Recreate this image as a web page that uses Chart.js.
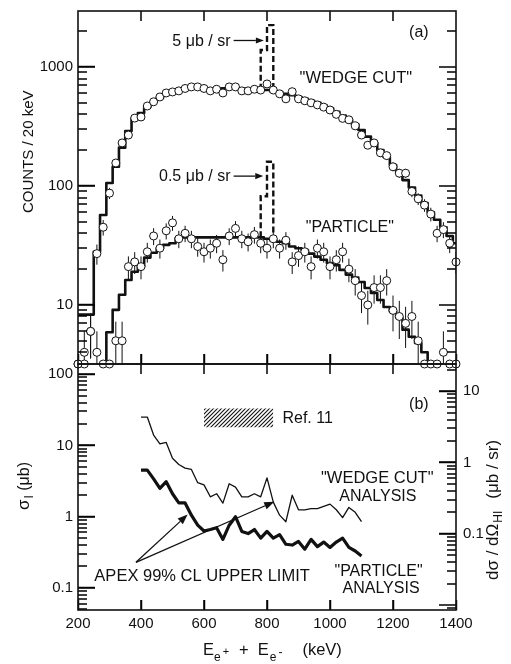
<!DOCTYPE html>
<html>
<head>
<meta charset="utf-8">
<title>APEX e+e- sum energy spectra and limits</title>
<script src="https://cdn.jsdelivr.net/npm/chart.js@4.4.1/dist/chart.umd.min.js"></script>
<style>
  html, body { margin: 0; padding: 0; background: #fff; }
  #figure { position: relative; width: 511px; height: 664px; }
  #counts-chart { position: absolute; left: 0; top: 0; }
  #limit-chart { position: absolute; left: 0; top: 358px; }
</style>
</head>
<body>
<div id="figure">
  <canvas id="counts-chart" width="511" height="370"></canvas>
  <canvas id="limit-chart" width="511" height="306"></canvas>
</div>
<script>
const FAMILY = "'Liberation Sans', Arial, Helvetica, sans-serif";
const INK = '#111';
const BOTTOM_OFFSET = 358;

// panel (a): counts per 20 keV bin
const energyBins = [200, 220, 240, 260, 280, 300, 320, 340, 360, 380,
  400, 420, 440, 460, 480, 500, 520, 540, 560, 580,
  600, 620, 640, 660, 680, 700, 720, 740, 760, 780,
  800, 820, 840, 860, 880, 900, 920, 940, 960, 980,
  1000, 1020, 1040, 1060, 1080, 1100, 1120, 1140, 1160, 1180,
  1200, 1220, 1240, 1260, 1280, 1300, 1320, 1340, 1360, 1380, 1400];
const wedgeCounts = [0, 4, 6, 27, 45, 87, 156, 230, 268, 372,
  380, 470, 510, 560, 605, 617, 630, 660, 680, 680,
  660, 630, 650, 605, 680, 680, 630, 630, 650, 640,
  720, 640, 595, 540, 620, 540, 520, 500, 480, 460,
  435, 400, 370, 360, 320, 268, 220, 230, 190, 180,
  145, 128, 128, 90, 78, 69, 58, 40, 43, 33, 23];
const wedgeFit = [8.3, 8.3, 8.3, 28, 57, 106, 145, 210, 290, 370,
  410, 460, 510, 550, 590, 615, 635, 650, 660, 665,
  665, 660, 660, 662, 665, 665, 660, 655, 650, 645,
  640, 625, 610, 595, 580, 560, 540, 520, 500, 475,
  450, 420, 390, 360, 330, 295, 260, 230, 200, 175,
  150, 130, 112, 97, 83, 72, 60, 52, 45, 38, 33];
const particleCounts = [0, 0, 6, 4, 0, 0, 5, 5, 21, 23,
  21, 28, 38, 30, 42, 49, 36, 40, 36, 31,
  28, 30, 33, 24, 38, 44, 36, 34, 39, 33,
  30, 36, 30, 35, 23, 26, 28, 21, 30, 28,
  21, 24, 28, 20, 16, 12, 10, 14, 14, 16,
  9, 8, 7, 8, 5, 0, 0, 0, 4, 0, 0];
const particleFit = [0, 0, 0, 0, 0, 5.9, 9.1, 12.2, 16.2, 19,
  21, 25, 27.5, 30, 32, 33, 36.5, 37, 37, 37,
  37, 37, 37, 37, 37, 37, 37, 37, 37, 37,
  36, 35, 34, 33, 31, 30, 29, 27, 25.5, 24,
  22.5, 21.6, 19.7, 18, 17, 15.6, 13.9, 12.6, 11, 9.6,
  8.8, 7.8, 6.2, 5.4, 4.8, 4.0, 0, 0, 0, 0, 0];
const peakEdges = [780, 800, 820];
const wedgePeak = [1390, 2250];
const particlePeak = [82, 160];

// panel (b): 99% CL upper limits
const limitEnergies = [400, 420, 440, 460, 480, 500, 520, 540, 560, 580,
  600, 620, 640, 660, 680, 700, 720, 740, 760, 780,
  800, 820, 840, 860, 880, 900, 920, 940, 960, 980,
  1000, 1020, 1040, 1060, 1080, 1100];
const wedgeLimit = [25, 25, 14, 10.5, 11, 6.6, 5.4, 4.8, 4.6, 3.0,
  2.8, 1.9, 2.1, 1.55, 2.9, 2.6, 1.9, 1.9, 2.1, 1.9,
  3.5, 1.6, 1.05, 0.85, 2.0, 1.25, 1.25, 1.3, 1.3, 1.4,
  1.5, 1.25, 0.97, 1.35, 1.15, 0.85];
const particleLimit = [4.5, 4.5, 3.4, 2.5, 3.1, 2.1, 1.56, 1.56, 1.05, 0.76,
  0.63, 0.66, 0.7, 0.48, 0.76, 1.0, 0.62, 0.58, 0.66, 0.5,
  0.62, 0.5, 0.56, 0.41, 0.4, 0.45, 0.35, 0.48, 0.38, 0.44,
  0.37, 0.44, 0.5, 0.37, 0.33, 0.28];
const ref11Energy = [600, 820];
const ref11Sigma = [18, 33];

// axes
const energyTicks = [200, 400, 600, 800, 1000, 1200, 1400];
const countTicks = [10, 100, 1000];
const sigmaTicks = [0.1, 1, 10, 100];
const dsdoTicks = [0.1, 1, 10];
const countRange = [3.19, 2955];
const sigmaRange = [0.049, 139];
const dsdoRange = [0.0085, 24.1];

const MAJOR_TICK = 17;
const MINOR_TICK = 9;
const X_TICK = 10;

function logTicks(min, max) {
  const ticks = [];
  for (let e = Math.floor(Math.log10(min)); e <= Math.ceil(Math.log10(max)); e++) {
    for (let m = 1; m <= 9; m++) {
      const v = parseFloat((m * Math.pow(10, e)).toPrecision(6));
      if (v >= min && v <= max) ticks.push(v);
    }
  }
  return ticks;
}

function isDecade(v) {
  const l = Math.log10(v);
  return Math.abs(l - Math.round(l)) < 1e-9;
}

// labelled decades get inward tick marks from the library (negative length)
function logAxis(range, labels, position, width) {
  return {
    type: 'logarithmic',
    position: position,
    min: range[0],
    max: range[1],
    afterBuildTicks: s => { s.ticks = labels.map(v => ({ value: v })); },
    afterFit: s => { s.width = width; s.paddingTop = 0; s.paddingBottom = 0; },
    grid: {
      display: true,
      drawOnChartArea: false,
      drawTicks: true,
      tickLength: -MAJOR_TICK,
      tickColor: INK,
      tickWidth: 1.5
    },
    border: { display: false },
    ticks: {
      autoSkip: false,
      padding: (position === 'left' ? 5 : 7) + MAJOR_TICK,
      color: INK,
      font: { family: FAMILY, size: 15 },
      callback: v => String(v)
    }
  };
}

function energyAxis(showLabels, height) {
  return {
    type: 'linear',
    min: 200,
    max: 1400,
    afterBuildTicks: s => { s.ticks = energyTicks.map(v => ({ value: v })); },
    afterFit: s => { s.height = height; s.paddingLeft = 0; s.paddingRight = 0; },
    grid: {
      display: true,
      drawOnChartArea: false,
      drawTicks: true,
      tickLength: -X_TICK,
      tickColor: INK,
      tickWidth: 1.5
    },
    border: { display: false },
    ticks: {
      display: showLabels,
      autoSkip: false,
      maxRotation: 0,
      padding: 5 + X_TICK,
      color: INK,
      font: { family: FAMILY, size: 15 },
      callback: v => String(v)
    }
  };
}

function toPoints(xs, ys, zeroAs) {
  return xs.map((x, i) => ({ x: x, y: ys[i] > 0 ? ys[i] : zeroAs }));
}

// statistical error bars, one segment per bin, broken by nulls
function errorBars(xs, counts) {
  const out = [];
  xs.forEach((x, i) => {
    const n = counts[i];
    if (!n) return;
    const e = Math.sqrt(n);
    out.push({ x: x, y: Math.max(n - e, 0.5) }, { x: x, y: n + e }, { x: x, y: null });
  });
  return out;
}

function peakOutline(edges, heights, fit) {
  const left = fit[energyBins.indexOf(edges[0])];
  const right = fit[energyBins.indexOf(edges[2])];
  return [
    { x: edges[0], y: left }, { x: edges[0], y: heights[0] },
    { x: edges[1], y: heights[0] }, { x: edges[1], y: heights[1] },
    { x: edges[2], y: heights[1] }, { x: edges[2], y: right }
  ];
}

function lineSet(data, width, extra) {
  return Object.assign({
    data: data,
    borderColor: INK,
    borderWidth: width,
    pointRadius: 0,
    fill: false,
    spanGaps: false,
    borderJoinStyle: 'round'
  }, extra || {});
}

function circleSet(data) {
  return {
    data: data,
    showLine: false,
    pointStyle: 'circle',
    pointRadius: 4,
    pointBorderWidth: 1,
    pointBackgroundColor: '#fff',
    pointBorderColor: INK,
    clip: 6,
    order: 0
  };
}

function drawArrow(ctx, x1, y1, x2, y2, head) {
  const ang = Math.atan2(y2 - y1, x2 - x1);
  const bx = x2 - head * Math.cos(ang);
  const by = y2 - head * Math.sin(ang);
  const hw = head * 0.38;
  ctx.beginPath();
  ctx.moveTo(x1, y1);
  ctx.lineTo(bx, by);
  ctx.stroke();
  ctx.beginPath();
  ctx.moveTo(x2, y2);
  ctx.lineTo(bx + hw * Math.sin(ang), by - hw * Math.cos(ang));
  ctx.lineTo(bx - hw * Math.sin(ang), by + hw * Math.cos(ang));
  ctx.closePath();
  ctx.fill();
}

// text made of runs with own size and baseline shift (subscripts)
function drawRich(ctx, t) {
  ctx.save();
  ctx.translate(t.x, t.y);
  ctx.rotate((t.rot || 0) * Math.PI / 180);
  ctx.textAlign = 'left';
  ctx.textBaseline = 'alphabetic';
  let cx = 0;
  t.parts.forEach(p => {
    ctx.font = p.s + 'px ' + FAMILY;
    cx += p.dx || 0;
    ctx.fillText(p.t, cx, p.dy || 0);
    cx += ctx.measureText(p.t).width;
  });
  ctx.restore();
}

// text, arrows and axis titles, then the frame with the remaining inward ticks
function decorations(id, leftId, rightId, labels, arrows, titles) {
  return {
    id: id,
    afterDraw(chart) {
      const ctx = chart.ctx;
      const a = chart.chartArea;
      const xs = chart.scales.x;
      const yl = chart.scales[leftId];
      const yr = chart.scales[rightId];
      const len = v => isDecade(v) ? MAJOR_TICK : MINOR_TICK;

      ctx.save();
      ctx.fillStyle = INK;
      ctx.strokeStyle = INK;
      ctx.lineWidth = 1.3;
      labels.forEach(l => {
        ctx.font = (l.size || 16) + 'px ' + FAMILY;
        ctx.textAlign = l.align || 'center';
        ctx.textBaseline = 'middle';
        ctx.fillText(l.text, xs.getPixelForValue(l.x), yl.getPixelForValue(l.y));
      });
      arrows.forEach(r => drawArrow(ctx,
        xs.getPixelForValue(r.from[0]), yl.getPixelForValue(r.from[1]),
        xs.getPixelForValue(r.to[0]), yl.getPixelForValue(r.to[1]), r.head));
      titles.forEach(t => drawRich(ctx, t));
      ctx.restore();

      ctx.save();
      ctx.strokeStyle = '#000';
      ctx.lineWidth = 1.5;
      ctx.beginPath();
      energyTicks.forEach(v => {
        const px = Math.round(xs.getPixelForValue(v));
        if (px < a.left + 2 || px > a.right - 2) return;
        ctx.moveTo(px, a.top);
        ctx.lineTo(px, a.top + X_TICK);
        ctx.moveTo(px, a.bottom);
        ctx.lineTo(px, a.bottom - X_TICK);
      });
      logTicks(yl.min, yl.max).forEach(v => {
        const py = Math.round(yl.getPixelForValue(v));
        ctx.moveTo(a.left, py);
        ctx.lineTo(a.left + len(v), py);
      });
      logTicks(yr.min, yr.max).forEach(v => {
        const py = Math.round(yr.getPixelForValue(v));
        ctx.moveTo(a.right, py);
        ctx.lineTo(a.right - len(v), py);
      });
      ctx.stroke();
      ctx.strokeStyle = INK;
      ctx.lineWidth = 1.6;
      ctx.strokeRect(a.left, a.top, a.right - a.left, a.bottom - a.top);
      ctx.restore();
    }
  };
}

function hatch(ctx) {
  const tile = document.createElement('canvas');
  tile.width = 4;
  tile.height = 4;
  const g = tile.getContext('2d');
  g.strokeStyle = INK;
  g.lineWidth = 1.1;
  g.beginPath();
  g.moveTo(0, 4); g.lineTo(4, 0);
  g.moveTo(-1, 1); g.lineTo(1, -1);
  g.moveTo(3, 5); g.lineTo(5, 3);
  g.stroke();
  return ctx.createPattern(tile, 'repeat');
}

function createCountsChart() {
  const labels = [
    { text: '5 μb / sr', x: 684, y: 1620, align: 'right' },
    { text: '0.5 μb / sr', x: 684, y: 119, align: 'right' },
    { text: '"WEDGE CUT"', x: 1082, y: 808, size: 16.5 },
    { text: '"PARTICLE"', x: 1063, y: 44.5 },
    { text: '(a)', x: 1282, y: 1935 }
  ];
  const arrows = [
    { from: [694, 1670], to: [790, 1670], head: 8 },
    { from: [694, 121], to: [788, 121], head: 8 }
  ];
  const titles = [
    { x: 33, y: 213, rot: -90, parts: [{ t: 'COUNTS / 20 keV', s: 15 }] }
  ];

  new Chart(document.getElementById('counts-chart'), {
    type: 'line',
    data: {
      datasets: [
        circleSet(toPoints(energyBins, wedgeCounts, countRange[0])),
        circleSet(toPoints(energyBins, particleCounts, countRange[0])),
        lineSet(peakOutline(peakEdges, wedgePeak, wedgeFit), 2.4, { borderDash: [6, 3], borderJoinStyle: 'miter', order: 1 }),
        lineSet(peakOutline(peakEdges, particlePeak, particleFit), 2.4, { borderDash: [6, 3], borderJoinStyle: 'miter', order: 1 }),
        lineSet(toPoints(energyBins, wedgeFit, 1), 2.6, { stepped: 'middle', order: 2 }),
        lineSet(toPoints(energyBins, particleFit, 1), 2.6, { stepped: 'middle', order: 2 }),
        lineSet(errorBars(energyBins, wedgeCounts), 1, { order: 3 }),
        lineSet(errorBars(energyBins, particleCounts), 1, { order: 3 })
      ]
    },
    options: {
      responsive: false,
      animation: false,
      events: [],
      layout: { padding: { left: 0, right: 55, top: 11, bottom: 0 } },
      plugins: { legend: { display: false }, tooltip: { enabled: false } },
      scales: {
        x: energyAxis(false, 6),
        y: logAxis(countRange, countTicks, 'left', 78)
      }
    },
    plugins: [decorations('countDecor', 'y', 'y', labels, arrows, titles)]
  });
}

function createLimitChart() {
  const canvas = document.getElementById('limit-chart');
  const pattern = hatch(canvas.getContext('2d'));
  const labels = [
    { text: '(b)', x: 1282, y: 38 },
    { text: 'Ref. 11', x: 849, y: 23.7, align: 'left' },
    { text: '"WEDGE CUT"', x: 1150, y: 3.48, size: 16.5 },
    { text: 'ANALYSIS', x: 1152, y: 1.9 },
    { text: '"PARTICLE"', x: 1154, y: 0.167 },
    { text: 'ANALYSIS', x: 1162, y: 0.097 },
    { text: 'APEX 99% CL UPPER LIMIT', x: 594, y: 0.147, size: 16.5 }
  ];
  const arrows = [
    { from: [384, 0.229], to: [548, 1.07], head: 10 },
    { from: [384, 0.229], to: [823, 1.62], head: 10 }
  ];
  const titles = [
    { x: 29, y: 510 - BOTTOM_OFFSET, rot: -90, parts: [
      { t: 'σ', s: 17 }, { t: 'I', s: 12, dy: 4, dx: 1 }, { t: ' (μb)', s: 16 }] },
    { x: 498, y: 580 - BOTTOM_OFFSET, rot: -90, parts: [
      { t: 'dσ / dΩ', s: 17 }, { t: 'HI', s: 12, dy: 4, dx: 1 }, { t: '(μb / sr)', s: 17, dx: 12 }] },
    { x: 203, y: 655 - BOTTOM_OFFSET, parts: [
      { t: 'E', s: 16.5 }, { t: 'e', s: 12, dy: 6 }, { t: '+', s: 11, dx: 2 },
      { t: '+', s: 16.5, dx: 10 }, { t: 'E', s: 16.5, dx: 9 },
      { t: 'e', s: 12, dy: 6, dx: 1 }, { t: '-', s: 12, dy: 1, dx: 2 },
      { t: '(keV)', s: 16.5, dx: 20 }] }
  ];

  new Chart(canvas, {
    type: 'line',
    data: {
      datasets: [
        lineSet(ref11Energy.map(x => ({ x: x, y: ref11Sigma[1] })), 0,
          { fill: '+1', backgroundColor: pattern, borderColor: 'rgba(0,0,0,0)', order: 5 }),
        lineSet(ref11Energy.map(x => ({ x: x, y: ref11Sigma[0] })), 0,
          { borderColor: 'rgba(0,0,0,0)', order: 5 }),
        lineSet(toPoints(limitEnergies, wedgeLimit, null), 1.3, { order: 1 }),
        lineSet(toPoints(limitEnergies, particleLimit, null), 3.2, { order: 0 })
      ]
    },
    options: {
      responsive: false,
      animation: false,
      events: [],
      layout: { padding: { left: 0, right: 0, top: 6, bottom: 0 } },
      plugins: { legend: { display: false }, tooltip: { enabled: false } },
      scales: {
        x: energyAxis(true, 54),
        y: logAxis(sigmaRange, sigmaTicks, 'left', 78),
        y2: logAxis(dsdoRange, dsdoTicks, 'right', 55)
      }
    },
    plugins: [decorations('limitDecor', 'y', 'y2', labels, arrows, titles)]
  });
}

createCountsChart();
createLimitChart();
</script>
</body>
</html>
